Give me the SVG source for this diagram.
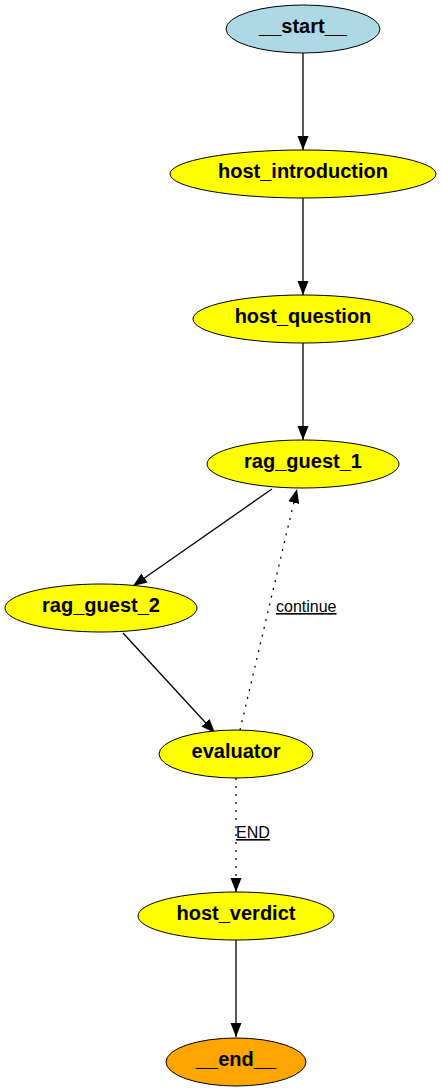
<svg xmlns="http://www.w3.org/2000/svg" width="442" height="1092" viewBox="0 0 442 1092">
<defs>
<style>
.n ellipse{stroke:#000;stroke-width:1}
.n text{font-family:"Liberation Sans",Arial,sans-serif;font-weight:bold;font-size:20px;text-anchor:middle;fill:#000}
.e{stroke:#000;stroke-width:1.3;fill:none}
.d{stroke-dasharray:2,6}
.lbl{font-family:"Liberation Sans",Arial,sans-serif;font-size:16px;fill:#000;text-decoration:underline}
</style>
<marker id="ah" markerWidth="14" markerHeight="12" refX="14" refY="5.5" orient="auto" markerUnits="userSpaceOnUse" viewBox="0 0 14 11">
<path d="M0,0 L14,5.5 L0,11 Z" fill="#000"/>
</marker>
</defs>
<rect width="442" height="1092" fill="#fff"/>
<g id="edges">
<path class="e" d="M303,53 L303,150" marker-end="url(#ah)"/>
<path class="e" d="M303,198 L303,295" marker-end="url(#ah)"/>
<path class="e" d="M303,343 L303,440" marker-end="url(#ah)"/>
<path class="e" d="M272,489 L133,586" marker-end="url(#ah)"/>
<path class="e" d="M123,633 L215,733" marker-end="url(#ah)"/>
<path class="e d" d="M240,730 L297,489" marker-end="url(#ah)"/>
<path class="e d" d="M236,778 L236,892" marker-end="url(#ah)"/>
<path class="e" d="M236,940 L236,1037" marker-end="url(#ah)"/>
<text class="lbl" x="276" y="612">continue</text>
<text class="lbl" x="236" y="838">END</text>
</g>
<g id="start" class="n"><ellipse cx="303" cy="29" rx="77" ry="24" fill="#add8e6"/><text x="303" y="33">__start__</text></g>
<g id="host_introduction" class="n"><ellipse cx="303" cy="174" rx="133" ry="24" fill="#ffff00"/><text x="303" y="178">host_introduction</text></g>
<g id="host_question" class="n"><ellipse cx="303" cy="319" rx="110" ry="24" fill="#ffff00"/><text x="303" y="323">host_question</text></g>
<g id="rag_guest_1" class="n"><ellipse cx="303" cy="464" rx="96" ry="24" fill="#ffff00"/><text x="303" y="468">rag_guest_1</text></g>
<g id="rag_guest_2" class="n"><ellipse cx="101" cy="608" rx="96" ry="24" fill="#ffff00"/><text x="101" y="612">rag_guest_2</text></g>
<g id="evaluator" class="n"><ellipse cx="236" cy="754" rx="77" ry="24" fill="#ffff00"/><text x="236" y="758">evaluator</text></g>
<g id="host_verdict" class="n"><ellipse cx="236" cy="916" rx="98" ry="24" fill="#ffff00"/><text x="236" y="920">host_verdict</text></g>
<g id="end" class="n"><ellipse cx="236" cy="1062" rx="70" ry="24" fill="#ffa500"/><text x="236" y="1066">__end__</text></g>
</svg>
